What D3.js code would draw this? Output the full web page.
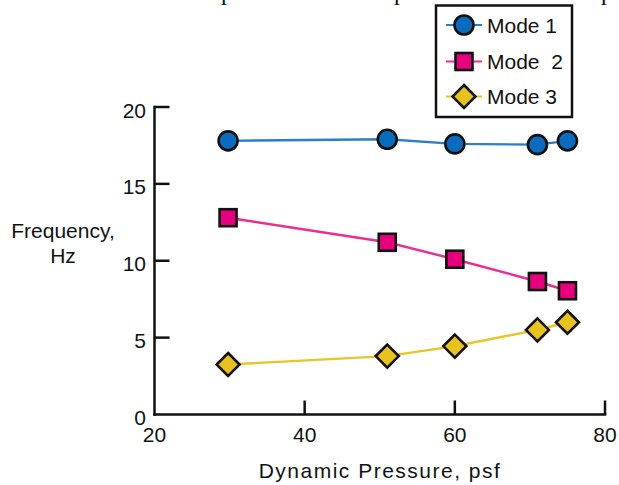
<!DOCTYPE html>
<html>
<head>
<meta charset="utf-8">
<script src="https://cdn.jsdelivr.net/npm/d3@7"></script>
<style>
  html, body { margin: 0; padding: 0; background: #fff; }
  svg { display: block; }
  text { font-family: "Liberation Sans", Arial, Helvetica, sans-serif; fill: #111; }
</style>
</head>
<body>
<svg id="chart" width="619" height="485"></svg>
<script>
// ---- data ----
const pressure = [29.8, 51, 60, 71, 75];
const mode1 = [17.8, 17.9, 17.6, 17.55, 17.8];
const mode2 = [12.8, 11.2, 10.1, 8.65, 8.05];
const mode3 = [3.25, 3.8, 4.45, 5.5, 6.0];
const seriesNames = ["Mode 1", "Mode  2", "Mode 3"];
const xTicks = [20, 40, 60, 80];
const yTicks = [0, 5, 10, 15, 20];

const svg = d3.select("#chart");
const FS = "21px";

// cut-off text fragments from the page above
svg.selectAll("text.frag").data([221, 394, 601]).join("text")
  .attr("class", "frag")
  .attr("x", d => d).attr("y", -0.5)
  .style("font-family", "'Liberation Serif', 'Times New Roman', serif")
  .style("font-size", "24px")
  .text("p");

const x = d3.scaleLinear().domain([20, 80]).range([154.5, 605]);
const y = d3.scaleLinear().domain([0, 20]).range([414.5, 107]);

// axes
const axisW = 2.5;
svg.append("line").attr("x1", x(20)).attr("x2", x(80)).attr("y1", y(0)).attr("y2", y(0))
  .attr("stroke", "#111").attr("stroke-width", axisW).attr("stroke-linecap", "square");
svg.append("line").attr("x1", x(20)).attr("x2", x(20)).attr("y1", y(0)).attr("y2", y(20))
  .attr("stroke", "#111").attr("stroke-width", axisW).attr("stroke-linecap", "square");

svg.selectAll("line.xt").data(xTicks.slice(1)).join("line")
  .attr("class", "xt")
  .attr("x1", d => x(d)).attr("x2", d => x(d))
  .attr("y1", y(0)).attr("y2", y(0) - 14)
  .attr("stroke", "#111").attr("stroke-width", axisW);
svg.selectAll("line.yt").data(yTicks.slice(1)).join("line")
  .attr("class", "yt")
  .attr("x1", x(20)).attr("x2", x(20) + 15)
  .attr("y1", d => y(d)).attr("y2", d => y(d))
  .attr("stroke", "#111").attr("stroke-width", axisW);

svg.selectAll("text.xl").data(xTicks).join("text")
  .attr("class", "xl")
  .attr("x", d => x(d)).attr("y", 442)
  .attr("text-anchor", "middle").style("font-size", FS)
  .text(d => d);
svg.selectAll("text.yl").data(yTicks).join("text")
  .attr("class", "yl")
  .attr("x", 146).attr("y", d => y(d) + 10.5)
  .attr("text-anchor", "end").style("font-size", FS)
  .text(d => d);

svg.append("text").attr("x", 380).attr("y", 478).attr("text-anchor", "middle")
  .style("font-size", FS).style("letter-spacing", "1.5px")
  .text("Dynamic Pressure, psf");
svg.append("text").attr("x", 63).attr("y", 238).attr("text-anchor", "middle")
  .style("font-size", FS).text("Frequency,");
svg.append("text").attr("x", 63).attr("y", 263).attr("text-anchor", "middle")
  .style("font-size", FS).text("Hz");

// series
const styles = [
  { line: "#2a7fcc", fill: "#0a6cbf", shape: "circle" },
  { line: "#ee2d92", fill: "#e6007e", shape: "square" },
  { line: "#e8c424", fill: "#e8c320", shape: "diamond" }
];
const allSeries = [mode1, mode2, mode3];

function drawMarker(g, shape, fill) {
  if (shape === "circle") {
    g.append("circle").attr("r", 9.5).attr("fill", fill).attr("stroke", "#111").attr("stroke-width", 2.6);
  } else if (shape === "square") {
    g.append("rect").attr("x", -8.5).attr("y", -8.5).attr("width", 17).attr("height", 17)
      .attr("fill", fill).attr("stroke", "#111").attr("stroke-width", 2.6);
  } else {
    g.append("path").attr("d", "M0,-11.5L11.5,0L0,11.5L-11.5,0Z")
      .attr("fill", fill).attr("stroke", "#111").attr("stroke-width", 2.6).attr("stroke-linejoin", "miter");
  }
}

const lineGen = d3.line().x(d => x(d[0])).y(d => y(d[1]));
allSeries.forEach((vals, i) => {
  const pts = pressure.map((p, j) => [p, vals[j]]);
  svg.append("path").datum(pts).attr("d", lineGen)
    .attr("fill", "none").attr("stroke", styles[i].line).attr("stroke-width", 2.4);
});
allSeries.forEach((vals, i) => {
  pressure.forEach((p, j) => {
    const g = svg.append("g").attr("transform", `translate(${x(p)},${y(vals[j])})`);
    drawMarker(g, styles[i].shape, styles[i].fill);
  });
});

// legend
svg.append("rect").attr("x", 436).attr("y", 5.5).attr("width", 136).attr("height", 111.5)
  .attr("fill", "#fff").attr("stroke", "#111").attr("stroke-width", 2.5);
const rowY = [25, 61.5, 96.5];
seriesNames.forEach((name, i) => {
  svg.append("line").attr("x1", 446).attr("x2", 482).attr("y1", rowY[i]).attr("y2", rowY[i])
    .attr("stroke", styles[i].line).attr("stroke-width", 2);
  const g = svg.append("g").attr("transform", `translate(464,${rowY[i]})`);
  drawMarker(g, styles[i].shape, styles[i].fill);
  svg.append("text").attr("x", 487).attr("y", rowY[i] + 7.5)
    .style("font-size", FS).style("white-space", "pre").attr("xml:space", "preserve")
    .text(name);
});
</script>
</body>
</html>
